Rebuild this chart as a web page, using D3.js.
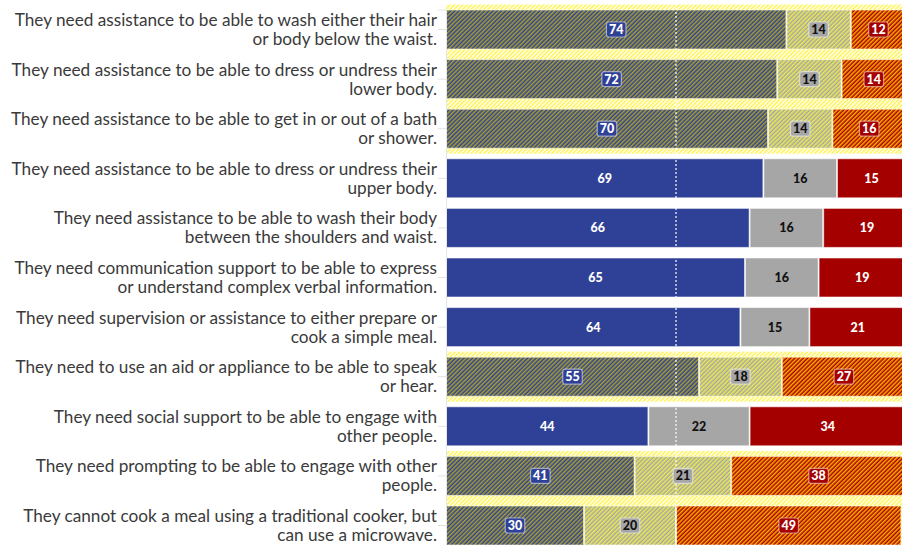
<!DOCTYPE html>
<html>
<head>
<meta charset="utf-8">
<script src="https://cdn.jsdelivr.net/npm/d3@7"></script>
<style>
  html, body { margin: 0; padding: 0; background: #fff; }
  svg { display: block; }
</style>
</head>
<body>
<svg id="chart" width="902" height="545"></svg>
<script>
const categoryLines = [
  ["They need assistance to be able to wash either their hair", "or body below the waist."],
  ["They need assistance to be able to dress or undress their", "lower body."],
  ["They need assistance to be able to get in or out of a bath", "or shower."],
  ["They need assistance to be able to dress or undress their", "upper body."],
  ["They need assistance to be able to wash their body", "between the shoulders and waist."],
  ["They need communication support to be able to express", "or understand complex verbal information."],
  ["They need supervision or assistance to either prepare or", "cook a simple meal."],
  ["They need to use an aid or appliance to be able to speak", "or hear."],
  ["They need social support to be able to engage with", "other people."],
  ["They need prompting to be able to engage with other", "people."],
  ["They cannot cook a meal using a traditional cooker, but", "can use a microwave."]
];
const seriesA = [74, 72, 70, 69, 66, 65, 64, 55, 44, 41, 30];
const seriesB = [14, 14, 14, 16, 16, 16, 15, 18, 22, 21, 20];
const seriesC = [12, 14, 16, 15, 19, 19, 21, 27, 34, 38, 49];
const highlighted = [true, true, true, false, false, false, false, true, false, true, true];
const referenceLine = 50;

const colors = ["#2f4196", "#a6a6a6", "#a50000"];
const labelColors = ["#ffffff", "#111111", "#ffffff"];
const stripeColors = ["#a9a02e", "#ecea52", "#ffb000"];
const bgStripe = "#fff34a";

const svg = d3.select("#chart");
const W = 902, H = 545;
const idx = d3.range(categoryLines.length);

const x = d3.scaleLinear().domain([0, 100]).range([446, 906]);
const y = d3.scaleBand().domain(idx).range([9.5, 545.5]).paddingInner(0.1935).paddingOuter(0);

const defs = svg.append("defs");
function makePattern(id, base, stripe, lw) {
  const p = defs.append("pattern")
    .attr("id", id)
    .attr("patternUnits", "userSpaceOnUse")
    .attr("width", 3).attr("height", 3)
    .attr("patternTransform", "rotate(45)");
  p.append("rect").attr("width", 3).attr("height", 3).attr("fill", base);
  p.append("line").attr("x1", 0.75).attr("y1", 0).attr("x2", 0.75).attr("y2", 3)
    .attr("stroke", stripe).attr("stroke-width", lw);
}
makePattern("hatch-bg", "#ffffff", bgStripe, 1.5);
colors.forEach((c, i) => makePattern("hatch-" + i, c, stripeColors[i], 1.5));

const clip = defs.append("clipPath").attr("id", "plotclip");
clip.append("rect").attr("x", 0).attr("y", 0).attr("width", W).attr("height", H);

// stacked data
const rows = idx.map(i => {
  const vals = [seriesA[i], seriesB[i], seriesC[i]];
  let acc = 0;
  return vals.map((v, k) => { const s = acc; acc += v; return { i, k, v, x0: s, x1: acc }; });
});

const g = svg.append("g").attr("clip-path", "url(#plotclip)");

// highlight background bands
g.selectAll("rect.bg").data(idx.filter(i => highlighted[i])).join("rect")
  .attr("class", "bg")
  .attr("x", x(0)).attr("width", x(100) - x(0))
  .attr("y", i => y(i) - 5).attr("height", y.bandwidth() + 10)
  .attr("fill", "url(#hatch-bg)");

// axis line & ticks
const axis = d3.axisLeft(y).tickSize(8).tickFormat("");
const ag = svg.append("g").attr("transform", `translate(${x(0)},0)`).call(axis);
ag.select(".domain").attr("stroke", "#e6e6e6");
ag.selectAll(".tick line").attr("stroke", "#e0e0e0");

// bars
const segs = rows.flat();
g.selectAll("rect.seg").data(segs).join("rect")
  .attr("class", "seg")
  .attr("x", d => x(d.x0) + 0.5)
  .attr("width", d => Math.max(0, x(d.x1) - x(d.x0) - 1))
  .attr("y", d => y(d.i) + 0.5)
  .attr("height", y.bandwidth() - 1)
  .attr("fill", d => highlighted[d.i] ? `url(#hatch-${d.k})` : colors[d.k])
  .attr("stroke", "rgba(255,255,255,0.55)")
  .attr("stroke-width", 1);

// reference dotted line
g.append("line")
  .attr("x1", x(referenceLine)).attr("x2", x(referenceLine))
  .attr("y1", 0).attr("y2", H)
  .attr("stroke", "rgba(255,255,255,0.8)")
  .attr("stroke-width", 1.5)
  .attr("stroke-dasharray", "2,2");

// value labels
const lab = g.selectAll("g.lab").data(segs).join("g")
  .attr("class", "lab")
  .attr("transform", d => `translate(${(x(d.x0) + x(d.x1)) / 2},${y(d.i) + y.bandwidth() / 2})`);
const boxes = lab.filter(d => highlighted[d.i]).append("rect")
  .attr("rx", 2.5)
  .attr("fill", d => colors[d.k])
  .attr("stroke", "rgba(255,255,255,0.5)").attr("stroke-width", 1.2);
const texts = lab.append("text")
  .attr("text-anchor", "middle")
  .attr("dy", "0.36em")
  .attr("font-family", "Lato, 'Open Sans', sans-serif")
  .attr("font-weight", 900)
  .attr("font-size", 12.5)
  .attr("fill", d => labelColors[d.k])
  .text(d => d.v);
boxes.each(function() {
  const t = d3.select(this.parentNode).select("text").node();
  const w = t.getComputedTextLength() + 5;
  d3.select(this).attr("x", -w / 2).attr("y", -7.5).attr("width", w).attr("height", 15);
});

// category labels
const cat = svg.append("g").selectAll("text").data(idx).join("text")
  .attr("x", 437)
  .attr("y", i => y(i) + y.bandwidth() / 2)
  .attr("text-anchor", "end")
  .attr("font-family", "Lato, 'Open Sans', sans-serif")
  .attr("font-size", 17.2)
  .attr("fill", "#3a3a3a");
cat.selectAll("tspan").data(i => categoryLines[i].map((t, j) => ({ t, j }))).join("tspan")
  .attr("x", 437)
  .attr("dy", d => d.j === 0 ? "-0.2em" : "19px")
  .text(d => d.t);
</script>
</body>
</html>
